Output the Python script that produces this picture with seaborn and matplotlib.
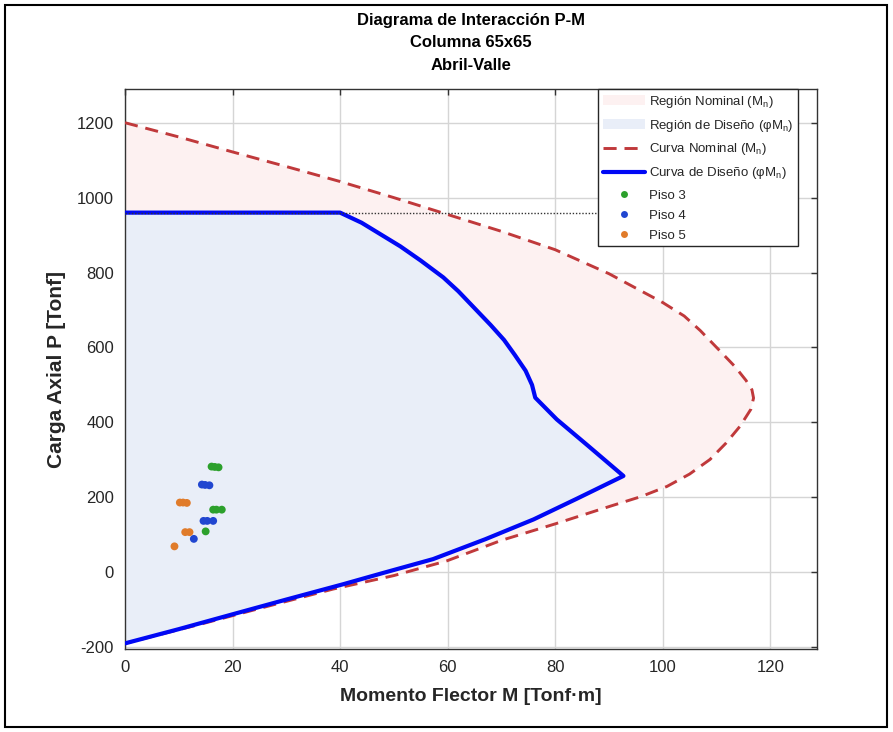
import matplotlib
matplotlib.use("Agg")
import matplotlib.pyplot as plt
from matplotlib.patches import Patch, Rectangle
from matplotlib.lines import Line2D
import seaborn as sns
import pandas as pd

# ---------------- data ----------------
nom_M = [0, 10, 20, 30, 40, 50, 60, 70, 80, 90, 100, 104, 107, 110.7, 113.5, 115.5, 116.6, 116.9, 116.4, 114.4,
         111.8, 108.8, 105, 100.8, 96, 90.2, 80, 70, 59.8, 50, 38.7, 26, 14, 0]
nom_P = [1200, 1162, 1122, 1083, 1043, 1000, 955, 910, 861, 797, 720, 684, 645, 590, 548, 512, 487, 465, 435, 390,
         345, 301, 262, 229, 202, 176, 129, 85, 30, -9, -45, -93, -139, -190]

des_M = [0, 40, 44, 48, 51.2, 55, 59.2, 62, 65, 68, 70.5, 72.5, 74.5, 75.7, 76.3, 80.3, 86, 92.7,
         84, 76, 67, 57.3, 48, 40.6, 30, 20.1, 10, 0]
des_P = [960, 960, 933, 898, 870, 832, 787, 750, 705, 660, 620, 580, 538, 500, 466, 408, 339, 257,
         196, 141, 88, 35, -2, -32, -73, -112, -152, -190]

limit_M = [0, 87.6]
limit_P = [960, 960]

p3_M = [16.1, 16.7, 17.4, 16.4, 17.0, 18.0, 15.0]
p3_P = [282, 281, 280, 167, 167, 167, 109]
p4_M = [14.3, 14.9, 15.7, 14.6, 15.3, 16.4, 12.8]
p4_P = [234, 233, 232, 137, 137, 137, 89]
p5_M = [10.2, 10.8, 11.5, 11.2, 12.0, 9.2]
p5_P = [186, 186, 185, 107, 107, 69]

x_ticks = [0, 20, 40, 60, 80, 100, 120]
y_ticks = [-200, 0, 200, 400, 600, 800, 1000, 1200]

# ---------------- style ----------------
sns.set_theme(style="white")
plt.rcParams["font.family"] = ["Liberation Sans", "DejaVu Sans"]
plt.rcParams["mathtext.fontset"] = "custom"
plt.rcParams["mathtext.rm"] = "Liberation Sans"
plt.rcParams["mathtext.it"] = "Liberation Sans"
plt.rcParams["axes.unicode_minus"] = False

fig = plt.figure(figsize=(8.93, 7.32), dpi=100)
ax = fig.add_axes([125 / 893, 1 - 649 / 732, 692 / 893, 560 / 732])

c_red = "#C0393B"
c_blue = "#0008F5"
c_pink = "#FDF1F1"
c_lblue = "#E9EEF8"

ax.fill(nom_M, nom_P, color=c_pink, lw=0, zorder=1)
ax.fill(des_M, des_P, color=c_lblue, lw=0, zorder=2)

nom_df = pd.DataFrame({"M": nom_M, "P": nom_P})
des_df = pd.DataFrame({"M": des_M, "P": des_P})
sns.lineplot(data=nom_df, x="M", y="P", sort=False, estimator=None, ax=ax,
             color=c_red, lw=2.1, zorder=4)
ax.lines[-1].set_dashes([4.5, 2.7])
ax.lines[-1].set_solid_joinstyle("round")
sns.lineplot(data=des_df, x="M", y="P", sort=False, estimator=None, ax=ax,
             color=c_blue, lw=3.0, zorder=5)
ax.plot(limit_M, limit_P, color="#333333", lw=1.0, ls=(0, (1, 1.3)), zorder=6)

for Ms, Ps, col in [(p3_M, p3_P, "#2CA02C"), (p4_M, p4_P, "#2146D0"), (p5_M, p5_P, "#E07B2A")]:
    sns.scatterplot(x=Ms, y=Ps, color=col, s=32, edgecolor="none", ax=ax, zorder=7)

ax.set_xlim(0, 128.7)
ax.set_ylim(-205, 1290)
ax.set_xticks(x_ticks)
ax.set_yticks(y_ticks)
ax.grid(True, color="#D5D5D5", lw=1.0)
ax.set_axisbelow(True)
for s in ax.spines.values():
    s.set_visible(True)
    s.set_color("#333333")
    s.set_linewidth(1.0)
ax.tick_params(direction="in", top=True, right=True, length=4, width=1,
               color="#333333", labelsize=12, labelcolor="#262626", pad=8)
ax.set_xlabel("Momento Flector M [Tonf·m]", fontsize=14, fontweight="bold", color="#262626", labelpad=9)
ax.set_ylabel("Carga Axial P [Tonf]", fontsize=15, fontweight="bold", color="#262626", labelpad=8)
ax.set_title("Diagrama de Interacción P-M\nColumna 65x65\nAbril-Valle",
             fontsize=12, fontweight="bold", color="#000000", linespacing=1.6, pad=14)

handles = [
    Patch(facecolor=c_pink, edgecolor="none"),
    Patch(facecolor=c_lblue, edgecolor="none"),
    Line2D([], [], color=c_red, lw=2.1, dashes=[4.5, 2.7]),
    Line2D([], [], color=c_blue, lw=3.0),
    Line2D([], [], color="#2CA02C", marker="o", ls="none", ms=5, mec="none"),
    Line2D([], [], color="#2146D0", marker="o", ls="none", ms=5, mec="none"),
    Line2D([], [], color="#E07B2A", marker="o", ls="none", ms=5, mec="none"),
]
labels = [
    r"Región Nominal (M$_\mathrm{n}$)",
    r"Región de Diseño (φM$_\mathrm{n}$)",
    r"Curva Nominal (M$_\mathrm{n}$)",
    r"Curva de Diseño (φM$_\mathrm{n}$)",
    "Piso 3", "Piso 4", "Piso 5",
]
leg = ax.legend(handles, labels, loc="upper right", bbox_to_anchor=(0.9725, 1.0),
                fontsize=9.5, frameon=True, fancybox=False, framealpha=1,
                edgecolor="#262626", handlelength=3.2, handletextpad=0.3,
                labelspacing=0.6, borderpad=0.35, borderaxespad=0)
leg.get_frame().set_linewidth(1.0)
leg.set_zorder(10)

fig.patches.append(Rectangle((5 / 893, 5 / 732), 882 / 893, 722 / 732, transform=fig.transFigure,
                             fill=False, edgecolor="black", lw=1.5))

fig.savefig("out.png", dpi=100, facecolor="white")
